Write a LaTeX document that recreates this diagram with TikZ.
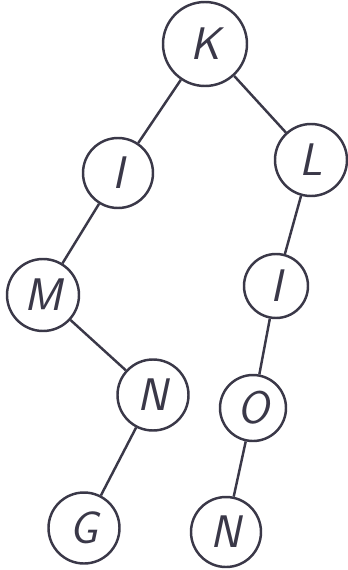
\documentclass[tikz,border=0pt]{standalone}
\usepackage{tikz}
\usetikzlibrary{positioning}
\definecolor{pen}{RGB}{58,56,72}

\begin{document}
\begin{tikzpicture}[auto, line width=1.4pt, draw=pen,
    letter/.style={circle, draw=pen, line width=1.4pt, inner sep=0pt, text=pen,
      font=\sffamily\itshape\fontsize{26}{28}\selectfont}]
  \useasboundingbox (0,0) rectangle (6.96,-11.4);

  % Define coordinates for nodes
  \node[letter, minimum size=1.68cm] (K) at (4.10, -0.88) {K};
  \node[letter, minimum size=1.40cm] (I) at (2.36, -3.46) {I};
  \node[letter, minimum size=1.44cm] (L) at (6.22, -3.20) {L};
  \node[letter, minimum size=1.44cm] (M) at (0.86, -5.90) {M};
  \node[letter, minimum size=1.28cm] (Ir) at (5.52, -5.72) {I};
  \node[letter, minimum size=1.42cm] (N) at (3.06, -7.90) {N};
  \node[letter, minimum size=1.32cm] (O) at (5.06, -8.16) {O};
  \node[letter, minimum size=1.42cm] (G) at (1.68, -10.56) {G};
  \node[letter, minimum size=1.40cm] (Nr) at (4.52, -10.64) {N};

  % Draw edges between nodes
  \draw[pen] (K) -- (I);
  \draw[pen] (K) -- (L);
  \draw[pen] (I) -- (M);
  \draw[pen] (M) -- (N);
  \draw[pen] (N) -- (G);
  \draw[pen] (L) -- (Ir);
  \draw[pen] (Ir) -- (O);
  \draw[pen] (O) -- (Nr);
\end{tikzpicture}
\end{document}
